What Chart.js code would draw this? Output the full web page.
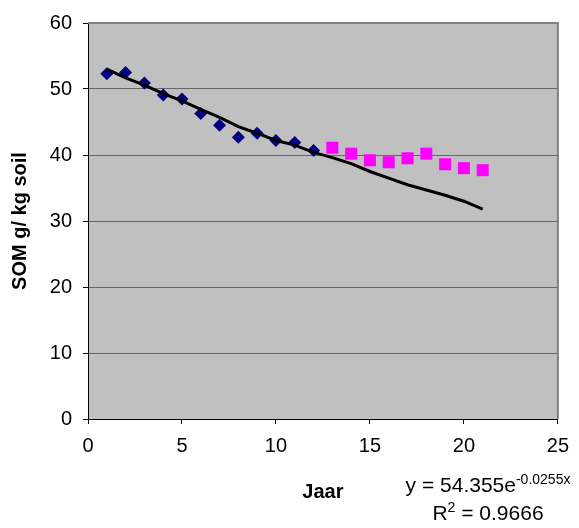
<!DOCTYPE html>
<html>
<head>
<meta charset="utf-8">
<script src="https://cdn.jsdelivr.net/npm/chart.js@4/dist/chart.umd.min.js"></script>
<style>
  body { margin: 0; background: #fff; }
</style>
</head>
<body>
<canvas id="somCanvas" width="579" height="528"></canvas>
<script>
// ------------------ DATA ------------------
const fitYears = [1, 2, 3, 4, 5, 6, 7, 8, 9, 10, 11, 12];
const fitSom = [52.3, 52.5, 50.9, 49.1, 48.5, 46.3, 44.5, 42.7, 43.3, 42.2, 41.9, 40.7];

const laterYears = [13, 14, 15, 16, 17, 18, 19, 20, 21];
const laterSom = [41.1, 40.2, 39.2, 38.9, 39.5, 40.2, 38.6, 38.0, 37.7];

const trendYears = [1, 2, 3, 4, 5, 6, 7, 8, 9, 10, 11, 12, 13, 14, 15, 16, 17, 18, 19, 20, 21];
const trendSom = [53.0, 51.7, 50.6, 49.3, 48.2, 46.9, 45.7, 44.3, 43.3, 42.2, 41.5, 40.4,
                  39.6, 38.7, 37.5, 36.5, 35.5, 34.7, 33.9, 33.0, 31.8];

const xTicks = [0, 5, 10, 15, 20, 25];
const yTicks = [0, 10, 20, 30, 40, 50, 60];

const eqText = "y = 54.355e";
const eqExp = "-0.0255x";
const r2Text = " = 0.9666";

const FONT = "'Liberation Sans', Arial, sans-serif";

function toPoints(xs, ys) {
  return xs.map((x, i) => ({ x: x, y: ys[i] }));
}

// ------------------ PLUGIN ------------------
const plotDecor = {
  id: "plotDecor",
  beforeDraw(chart) {
    const c = chart.ctx;
    const a = chart.chartArea;
    c.save();
    c.fillStyle = "#ffffff";
    c.fillRect(0, 0, chart.width, chart.height);
    c.fillStyle = "#c0c0c0";
    c.fillRect(a.left, a.top, a.right - a.left, a.bottom - a.top);
    c.restore();
  },
  afterDraw(chart) {
    const c = chart.ctx;
    const a = chart.chartArea;
    c.save();
    // top / right frame
    c.strokeStyle = "#808080";
    c.lineWidth = 2;
    c.beginPath();
    c.moveTo(a.left, a.top);
    c.lineTo(a.right, a.top);
    c.lineTo(a.right, a.bottom);
    c.stroke();

    // trendline label
    c.fillStyle = "#000";
    c.textBaseline = "alphabetic";
    c.textAlign = "left";
    const cx = 488;
    const big = "21px " + FONT;
    const small = "14px " + FONT;

    c.font = big;
    const w1 = c.measureText(eqText).width;
    c.font = small;
    const w2 = c.measureText(eqExp).width;
    let x = cx - (w1 + w2) / 2;
    c.font = big;
    c.fillText(eqText, x, 492);
    c.font = small;
    c.fillText(eqExp, x + w1, 484);

    c.font = big;
    const wr = c.measureText("R").width;
    const wv = c.measureText(r2Text).width;
    c.font = small;
    const ws = c.measureText("2").width;
    x = cx - (wr + ws + wv) / 2;
    c.font = big;
    c.fillText("R", x, 520);
    c.font = small;
    c.fillText("2", x + wr, 512);
    c.font = big;
    c.fillText(r2Text, x + wr + ws, 520);
    c.restore();
  }
};

// ------------------ CHART ------------------
const chart = new Chart(document.getElementById("somCanvas").getContext("2d"), {
  type: "scatter",
  data: {
    datasets: [
      {
        label: "trend",
        type: "line",
        data: toPoints(trendYears, trendSom),
        borderColor: "#000000",
        borderWidth: 3,
        pointRadius: 0,
        tension: 0,
        fill: false
      },
      {
        label: "SOM",
        data: toPoints(fitYears, fitSom),
        pointStyle: "rectRot",
        pointRadius: 6.5,
        backgroundColor: "#000080",
        borderColor: "#000080",
        borderWidth: 0
      },
      {
        label: "SOM later",
        data: toPoints(laterYears, laterSom),
        pointStyle: "rect",
        pointRadius: 8.5,
        backgroundColor: "#ff00ff",
        borderColor: "#ff00ff",
        borderWidth: 0
      }
    ]
  },
  options: {
    responsive: false,
    animation: false,
    devicePixelRatio: 1,
    layout: { padding: { left: 0, top: 21, right: 16, bottom: 0 } },
    plugins: {
      legend: { display: false },
      tooltip: { enabled: false }
    },
    scales: {
      x: {
        type: "linear",
        min: 0,
        max: 25,
        afterBuildTicks: (s) => { s.ticks = xTicks.map(v => ({ value: v })); },
        afterFit: (s) => { s.height = 109; },
        ticks: { color: "#000", font: { family: FONT, size: 20 }, padding: 10, maxRotation: 0 },
        grid: { drawOnChartArea: false, tickLength: 5, tickColor: "#000", tickWidth: 1 },
        border: { color: "#000", width: 1 },
        title: {
          display: true,
          text: "Jaar",
          color: "#000",
          font: { family: FONT, size: 20, weight: "bold" },
          padding: { top: 0, bottom: 24 }
        }
      },
      y: {
        min: 0,
        max: 60,
        afterBuildTicks: (s) => { s.ticks = yTicks.map(v => ({ value: v })); },
        afterFit: (s) => { s.width = 88; },
        ticks: { color: "#000", font: { family: FONT, size: 20 }, padding: 11 },
        grid: { color: "#666666", lineWidth: 1, tickLength: 5, tickColor: "#000", tickWidth: 1 },
        border: { color: "#000", width: 1 },
        title: {
          display: true,
          text: "SOM g/ kg soil",
          color: "#000",
          font: { family: FONT, size: 20, weight: "bold" },
          padding: { top: 8, bottom: 0 }
        }
      }
    }
  },
  plugins: [plotDecor]
});
</script>
</body>
</html>
